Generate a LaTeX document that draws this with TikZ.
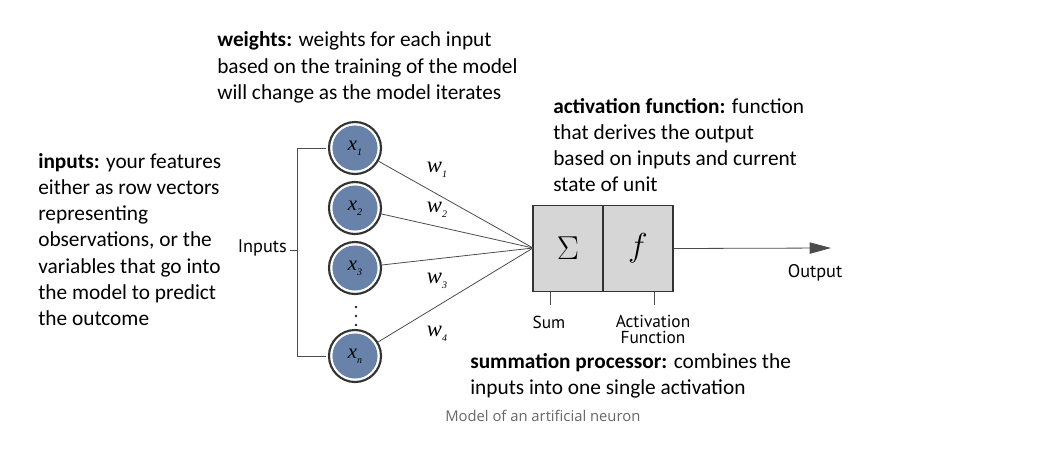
\documentclass[tikz,border=0pt]{standalone}
\usepackage{fontspec}
\setmainfont{Carlito}
\newfontfamily\dfont{PT Sans}
\newfontfamily\capfont{Open Sans}
\newfontfamily\mfont{Liberation Serif}
\usetikzlibrary{arrows.meta}
\definecolor{nblue}{HTML}{6882AA}
\definecolor{boxgray}{HTML}{D6D6D6}
\definecolor{capgray}{HTML}{666666}
\tikzset{
  px/.style={x=0.75pt,y=-0.75pt},
  neuron/.style={circle,draw=black!80,line width=1.6pt,fill=white,minimum size=39pt,inner sep=0pt,
    path picture={\fill[nblue] (path picture bounding box.center) circle (16.9pt);}},
  note/.style={anchor=base west,align=left,font=\fontsize{16}{19.7}\selectfont,inner sep=0pt},
  dlabel/.style={font=\dfont\fontsize{13}{11.5}\selectfont,inner sep=0pt,align=center},
  biglabel/.style={font=\dfont\fontsize{13.7}{12}\selectfont,inner sep=0pt},
  wlab/.style={font=\mfont\itshape\fontsize{17}{17}\selectfont,inner sep=0pt},
  xlab/.style={font=\mfont\itshape\fontsize{15.5}{15.5}\selectfont,inner sep=0pt},
  dot/.style={circle,fill=black!85,inner sep=0pt,minimum size=2.2pt},
  conn/.style={draw=black!70,line width=0.6pt},
}
\newcommand{\wsub}[1]{\raisebox{-3.5pt}{\fontsize{7.5}{7.5}\selectfont #1}}
\begin{document}
\begin{tikzpicture}[px]
\useasboundingbox (0,0) rectangle (1047,462);
% neurons
\node[neuron] (x1) at (355,148) {};
\node[neuron] (x2) at (355,208) {};
\node[neuron] (x3) at (355,268) {};
\node[neuron] (xn) at (355,356) {};
\foreach \n/\s in {x1/1,x2/2,x3/3,xn/n}{
  \node[xlab] at (\n) {x\wsub{\s}};
}
\node[dot] (d1) at (356,307) {};
\node[dot] (d2) at (356,316) {};
\node[dot] (d3) at (356,325) {};
% bracket
\coordinate (bt) at (297,148);
\coordinate (bb) at (297,356);
\coordinate (bm) at (297,250);
\coordinate (bti) at (326,148);
\coordinate (bbi) at (326,356);
\draw[conn] (bti) -- (bt) -- (bb) -- (bbi);
\node[biglabel,anchor=east] (inputs) at (287,248) {Inputs};
\draw[conn] (inputs.east)+(3,2) -- (bm);
% box
\node[draw=black!80,fill=boxgray,line width=0.8pt,minimum width=52.5pt,minimum height=64pt,inner sep=0pt] (sum) at (568,248.5) {};
\node[draw=black!80,fill=boxgray,line width=0.8pt,minimum width=52.5pt,minimum height=64pt,inner sep=0pt] (act) at (638,248.5) {};
\node[inner sep=0pt,font=\fontsize{27}{27}\selectfont] at (sum) {$\Sigma$};
\node[inner sep=0pt,font=\fontsize{23}{23}\selectfont] at (act) {$f$};
\coordinate (conv) at (533,248);
\foreach \n in {x1,x2,x3,xn}{\draw[conn] (\n) -- (conv);}
% weights
\node[wlab] (w1) at (437,170) {w\wsub{1}};
\node[wlab] (w2) at (437,210) {w\wsub{2}};
\node[wlab] (w3) at (437,281) {w\wsub{3}};
\node[wlab] (w4) at (437,334) {w\wsub{4}};
% output
\coordinate (outend) at (831,248);
\draw[conn,-{Triangle[length=16pt,width=8.5pt]}] (act.east) -- (outend);
\node[biglabel] (output) at (815,273) {Output};
% ticks
\coordinate (st) at (550,305);
\coordinate (at) at (654,305);
\draw[conn] (sum.south -| st) -- (st);
\draw[conn] (act.south -| at) -- (at);
\node[dlabel] (sumlab) at (549,322) {Sum};
\node[dlabel] (actlab) at (653,329.5) {Activation\\Function};
% notes (base = baseline of last line)
\node[note] (nw) at (217,99.5) {\textbf{weights:} weights for each input\\based on the training of the model\\will change as the model iterates};
\node[note] (na) at (553,191.8) {\textbf{activation function:} function\\that derives the output\\based on inputs and current\\state of unit};
\node[note] (ni) at (38,325.6) {\textbf{inputs:} your features\\either as row vectors\\representing\\observations, or the\\variables that go into\\the model to predict\\the outcome};
\node[note] (ns) at (470,394.3) {\textbf{summation processor:} combines the\\inputs into one single activation};
\node[inner sep=0pt,anchor=base west,text=capgray,font=\capfont\fontsize{11.1}{12}\selectfont] (cap) at (445,421) {Model of an artificial neuron};
\end{tikzpicture}
\end{document}
